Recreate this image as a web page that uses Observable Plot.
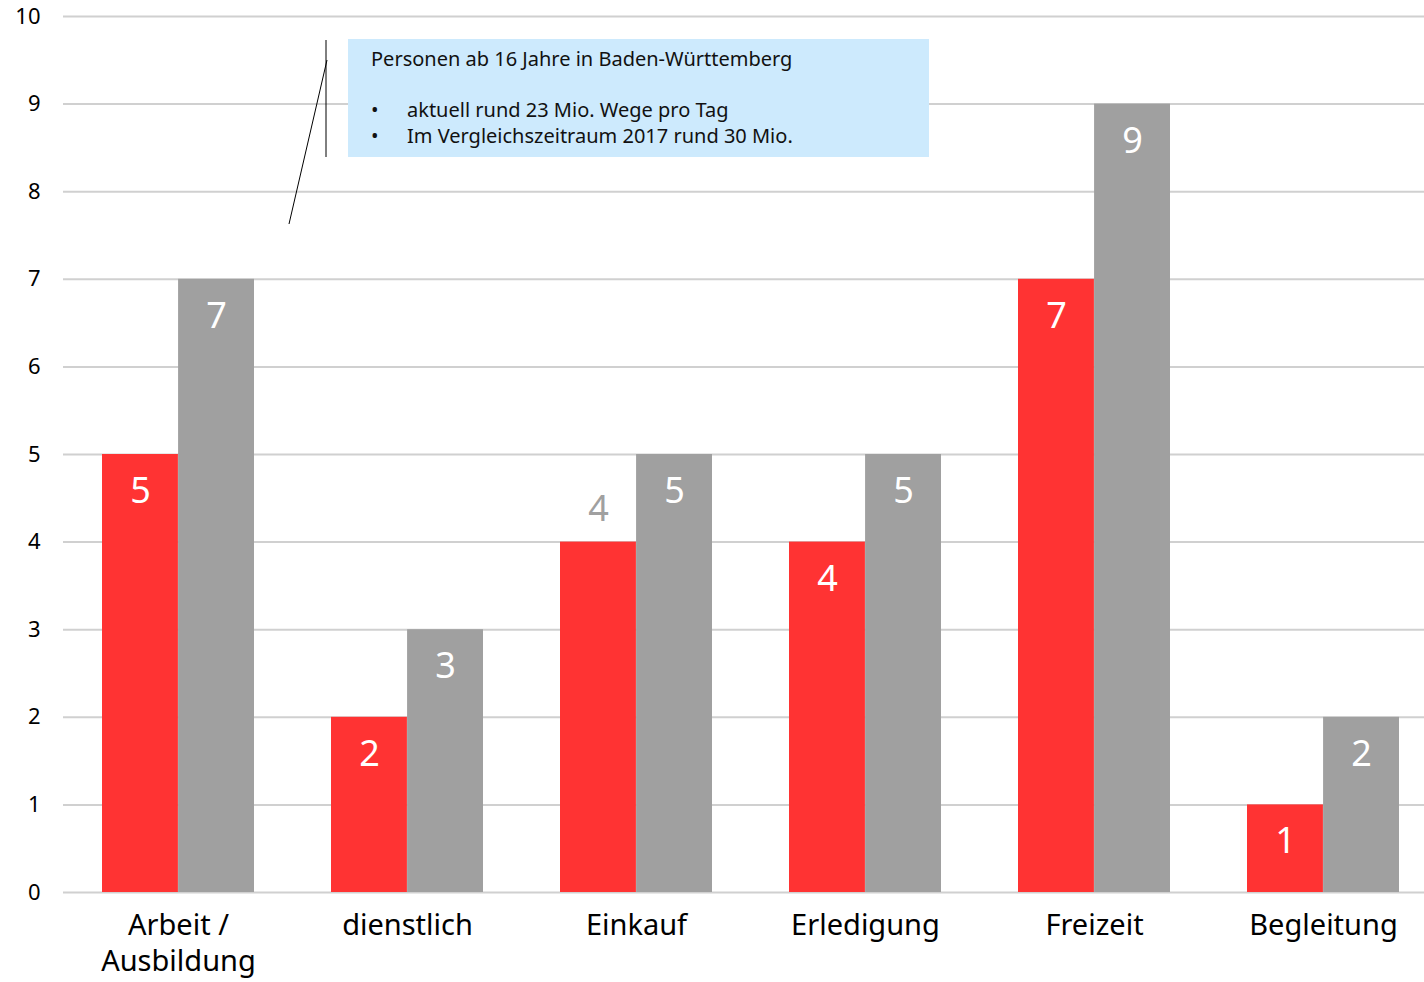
<!DOCTYPE html>
<html>
<head>
<meta charset="utf-8">
<script src="https://cdn.jsdelivr.net/npm/d3@7"></script>
<script src="https://cdn.jsdelivr.net/npm/@observablehq/plot@0.6"></script>
<style>
  body { margin: 0; background: #fff; }
  #wrap { position: relative; width: 1424px; height: 982px; font-family: "Noto Sans", sans-serif; }
  #note { position: absolute; left: 348px; top: 39px; width: 581px; height: 118px; background: #cdeafd;
          font-size: 20px; color: #111; box-sizing: border-box; padding: 7px 0 0 23px; line-height: 26px; }
  #note ul { margin: 25px 0 0 0; padding: 0; list-style: none; }
  #note li { position: relative; padding-left: 36px; }
  #note li::before { content: "•"; position: absolute; left: 0; }
  #callout { position: absolute; left: 0; top: 0; pointer-events: none; }
</style>
</head>
<body>
<div id="wrap"></div>
<script>
const categories = ["Arbeit /\nAusbildung", "dienstlich", "Einkauf", "Erledigung", "Freizeit", "Begleitung"];
const valuesCurrent = [5, 2, 4, 4, 7, 1];
const values2017 = [7, 3, 5, 5, 9, 2];
const yTicks = [0, 1, 2, 3, 4, 5, 6, 7, 8, 9, 10];
const noteTitle = "Personen ab 16 Jahre in Baden-Württemberg";
const noteBullets = ["aktuell rund 23 Mio. Wege pro Tag", "Im Vergleichszeitraum 2017 rund 30 Mio."];

const RED = "#ff3333", GRAY = "#a0a0a0";
const rowsCur = categories.map((c, i) => ({cat: c, value: valuesCurrent[i]}));
const rows17 = categories.map((c, i) => ({cat: c, value: values2017[i]}));

const xRange = [63, 1438];
const padInner = 0.336;
const step = (xRange[1] - xRange[0]) / categories.length;
const half = step * (1 - padInner) / 2;

const insideCur = rowsCur.filter(d => !d.cat.startsWith("Einkauf"));
const outsideCur = rowsCur.filter(d => d.cat.startsWith("Einkauf"));

const chart = Plot.plot({
  width: 1424,
  height: 982,
  marginTop: 16,
  marginBottom: 90,
  marginLeft: 63,
  marginRight: 0,
  style: {fontFamily: "Noto Sans, sans-serif", color: "#000", background: "transparent"},
  x: {domain: categories, range: xRange, paddingInner: padInner, paddingOuter: padInner / 2, align: 0.5, label: null},
  y: {domain: [0, 10], label: null},
  marks: [
    Plot.gridY(yTicks, {stroke: "#d0d0d0", strokeOpacity: 1, strokeWidth: 2}),
    Plot.axisY(yTicks, {tickSize: 0, tickPadding: 23, fontSize: 22, label: null, tickFormat: d => d}),
    Plot.axisX({tickSize: 0, tickPadding: 17, fontSize: 29, lineHeight: 1.25, label: null}),
    Plot.barY(rowsCur, {x: "cat", y: "value", fill: RED, insetRight: half}),
    Plot.barY(rows17, {x: "cat", y: "value", fill: GRAY, insetLeft: half}),
    Plot.text(insideCur, {x: "cat", y: "value", text: d => d.value, dx: -half / 2, dy: 37, fill: "#fff", fontSize: 36}),
    Plot.text(outsideCur, {x: "cat", y: "value", text: d => d.value, dx: -half / 2, dy: -33, fill: GRAY, fontSize: 36}),
    Plot.text(rows17, {x: "cat", y: "value", text: d => d.value, dx: half / 2, dy: 37, fill: "#fff", fontSize: 36})
  ]
});

const wrap = document.getElementById("wrap");
wrap.appendChild(chart);

const note = document.createElement("div");
note.id = "note";
const t = document.createElement("div");
t.textContent = noteTitle;
note.appendChild(t);
const ul = document.createElement("ul");
noteBullets.forEach(b => { const li = document.createElement("li"); li.textContent = b; ul.appendChild(li); });
note.appendChild(ul);
wrap.appendChild(note);

// callout leader lines
const svgNS = "http://www.w3.org/2000/svg";
const call = document.createElementNS(svgNS, "svg");
call.setAttribute("id", "callout");
call.setAttribute("width", 1424);
call.setAttribute("height", 982);
[[326, 40, 326, 157], [327, 60, 289, 224]].forEach(([x1, y1, x2, y2]) => {
  const l = document.createElementNS(svgNS, "line");
  l.setAttribute("x1", x1); l.setAttribute("y1", y1);
  l.setAttribute("x2", x2); l.setAttribute("y2", y2);
  l.setAttribute("stroke", "#000"); l.setAttribute("stroke-width", 1);
  call.appendChild(l);
});
wrap.appendChild(call);
</script>
</body>
</html>
